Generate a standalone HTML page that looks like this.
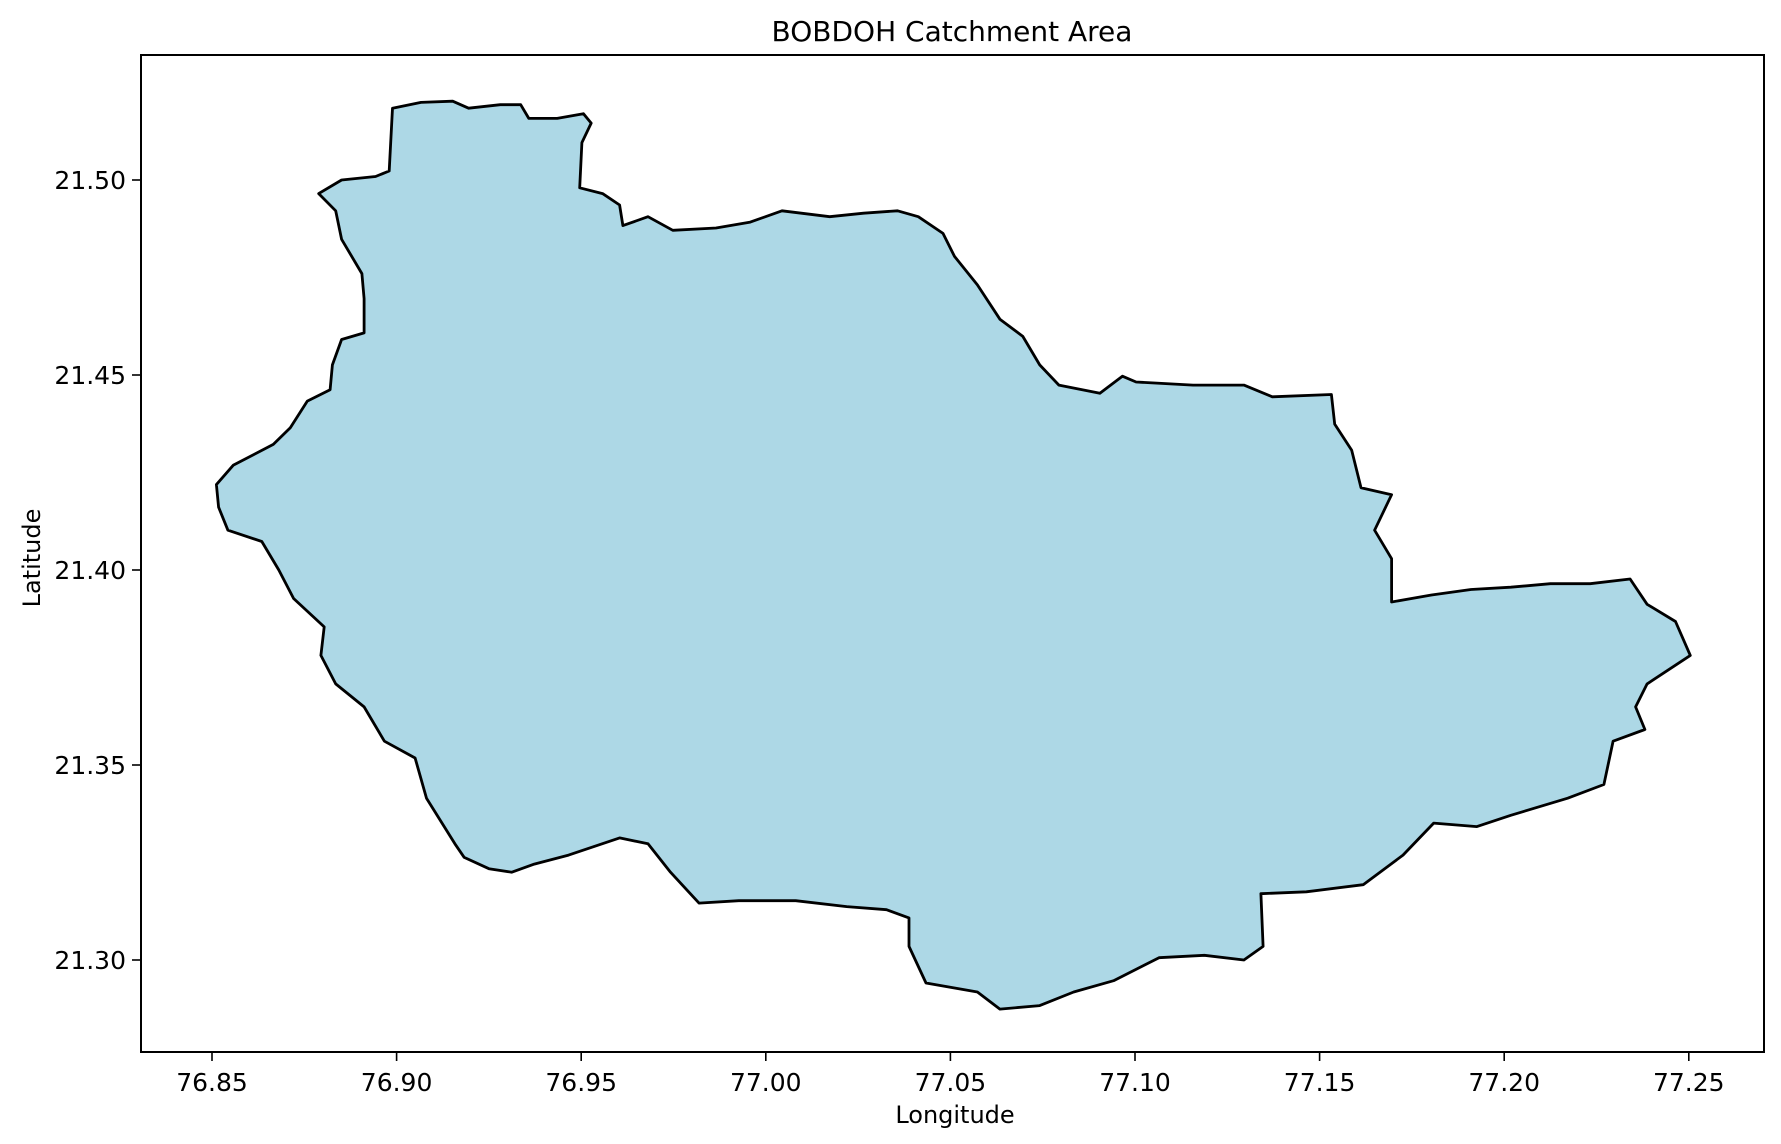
<!DOCTYPE html>
<html><head><meta charset="utf-8"><style>
html,body{margin:0;padding:0;background:#fff;}
svg{display:block;font-family:"DejaVu Sans","Liberation Sans",sans-serif;}
</style></head><body>
<svg id="chart" width="1781" height="1144" viewBox="0 0 1781 1144" xmlns="http://www.w3.org/2000/svg">
<rect width="1781" height="1144" fill="#fff"/>
<text x="952" y="41" font-size="28" text-anchor="middle">BOBDOH Catchment Area</text>
<g id="plot"></g>
<text x="955" y="1123" font-size="24" text-anchor="middle">Longitude</text>
<text x="40" y="558" font-size="24" text-anchor="middle" transform="rotate(-90 40 558)">Latitude</text>
</svg>
<script>
const xTicks = [76.85, 76.90, 76.95, 77.00, 77.05, 77.10, 77.15, 77.20, 77.25];
const yTicks = [21.30, 21.35, 21.40, 21.45, 21.50];
const boundaryLon = [76.8789,76.8851,76.8943,76.8980,76.8989,76.9066,76.9152,76.9195,76.9281,76.9336,76.9358,76.9435,76.9506,76.9527,76.9502,76.9496,76.9558,76.9604,76.9613,76.9681,76.9748,76.9865,76.9958,77.0044,77.0173,77.0265,77.0357,77.0413,77.0480,77.0511,77.0573,77.0634,77.0696,77.0742,77.0794,77.0905,77.0966,77.1003,77.1157,77.1295,77.1372,77.1532,77.1541,77.1587,77.1612,77.1695,77.1649,77.1695,77.1695,77.1803,77.1910,77.2018,77.2125,77.2233,77.2341,77.2387,77.2464,77.2504,77.2387,77.2356,77.2381,77.2295,77.2270,77.2172,77.2018,77.1926,77.1809,77.1726,77.1618,77.1464,77.1341,77.1347,77.1295,77.1188,77.1065,77.0942,77.0834,77.0742,77.0634,77.0573,77.0434,77.0388,77.0388,77.0327,77.0219,77.0081,76.9927,76.9819,76.9742,76.9681,76.9604,76.9466,76.9373,76.9312,76.9250,76.9183,76.9158,76.9081,76.9050,76.8967,76.8912,76.8835,76.8795,76.8804,76.8721,76.8681,76.8635,76.8543,76.8518,76.8512,76.8558,76.8666,76.8712,76.8758,76.8820,76.8826,76.8851,76.8912,76.8912,76.8906,76.8851,76.8835];
const boundaryLat = [21.4965,21.5000,21.5009,21.5023,21.5184,21.5199,21.5202,21.5184,21.5193,21.5193,21.5158,21.5158,21.5170,21.5146,21.5096,21.4980,21.4965,21.4936,21.4883,21.4906,21.4871,21.4877,21.4892,21.4921,21.4906,21.4915,21.4921,21.4906,21.4863,21.4804,21.4731,21.4643,21.4599,21.4526,21.4474,21.4453,21.4497,21.4482,21.4474,21.4474,21.4444,21.4450,21.4374,21.4307,21.4211,21.4193,21.4102,21.4029,21.3918,21.3936,21.3950,21.3956,21.3965,21.3965,21.3977,21.3912,21.3868,21.3781,21.3708,21.3649,21.3591,21.3561,21.3450,21.3415,21.3371,21.3342,21.3351,21.3269,21.3193,21.3175,21.3170,21.3035,21.3000,21.3012,21.3006,21.2947,21.2918,21.2883,21.2874,21.2918,21.2941,21.3035,21.3108,21.3129,21.3137,21.3152,21.3152,21.3146,21.3225,21.3298,21.3313,21.3269,21.3246,21.3225,21.3234,21.3263,21.3298,21.3415,21.3518,21.3561,21.3649,21.3708,21.3781,21.3854,21.3927,21.4000,21.4073,21.4102,21.4161,21.4219,21.4269,21.4322,21.4365,21.4433,21.4462,21.4526,21.4591,21.4608,21.4696,21.4760,21.4848,21.4921];

const NS = "http://www.w3.org/2000/svg";
const L = 141, R = 1764, T = 55, B = 1052;
const xScale = v => 212 + (v - 76.85) * 3692;
const yScale = v => 180 + (21.50 - v) * 3900;
const plot = document.getElementById('plot');
function mk(tag, attrs) { const e = document.createElementNS(NS, tag); for (const k in attrs) e.setAttribute(k, attrs[k]); return e; }

const poly = mk('polygon', {
  points: boundaryLon.map((lo, i) => xScale(lo).toFixed(1) + ',' + yScale(boundaryLat[i]).toFixed(1)).join(' '),
  fill: '#add8e6', stroke: '#000', 'stroke-width': 2.8, 'stroke-linejoin': 'round'
});


plot.appendChild(poly);

const frame = mk('rect', { x: L, y: T, width: R - L, height: B - T, fill: 'none', stroke: '#000', 'stroke-width': 2 });


plot.appendChild(frame);

xTicks.forEach(v => {
  const x = xScale(v);
  const t = mk('line', { x1: x, x2: x, y1: B, y2: B + 9, stroke: '#000', 'stroke-width': 1.6 });
  
  
  plot.appendChild(t);
  const lb = mk('text', { x: x, y: B + 39, 'font-size': 25, 'text-anchor': 'middle' });
  lb.textContent = v.toFixed(2);
  
  
  plot.appendChild(lb);
});
yTicks.forEach(v => {
  const y = yScale(v);
  const t = mk('line', { x1: L - 9, x2: L, y1: y, y2: y, stroke: '#000', 'stroke-width': 1.6 });
  
  
  plot.appendChild(t);
  const lb = mk('text', { x: L - 15, y: y + 9, 'font-size': 25, 'text-anchor': 'end' });
  lb.textContent = v.toFixed(2);
  
  
  plot.appendChild(lb);
});
</script>
</body></html>
